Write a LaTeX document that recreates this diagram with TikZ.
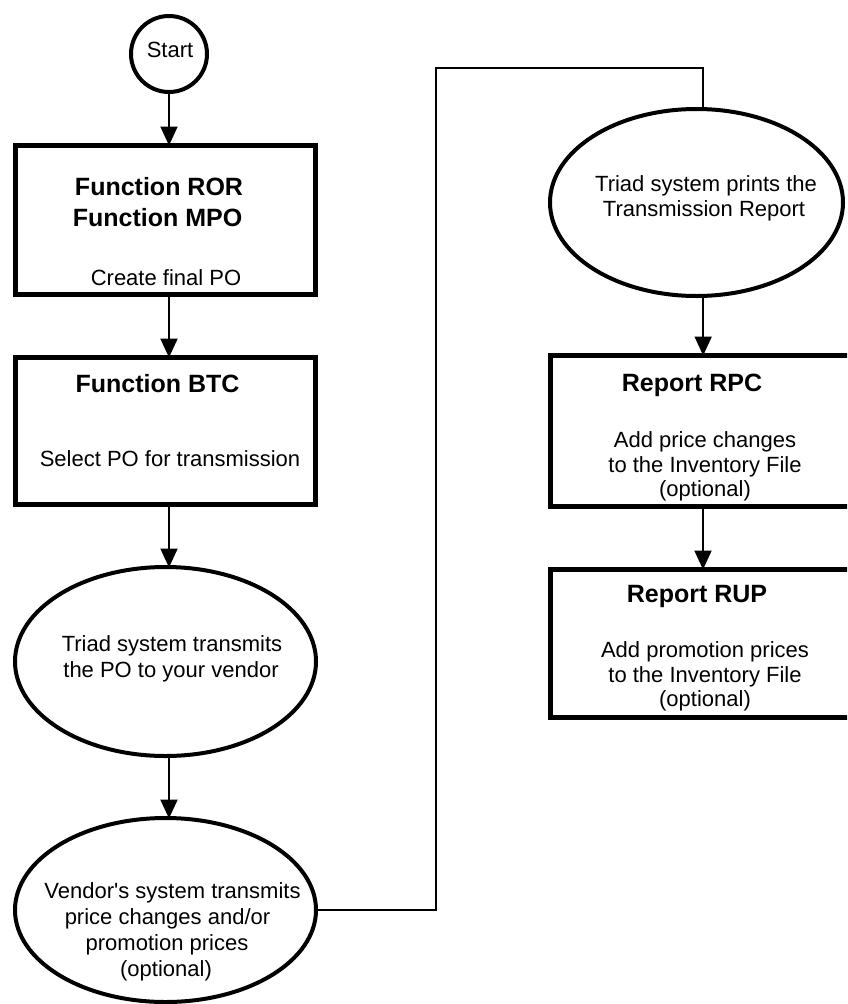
\documentclass[tikz,border=0pt]{standalone}
\usepackage{fontspec}
\setmainfont{Liberation Sans}
% same family without the TeX input mapping, so ' stays a straight quote
\newfontfamily\plainsans{Liberation Sans}
\usetikzlibrary{shapes.geometric,arrows.meta}

\tikzset{
  procbox/.style={draw, line width=5pt, rectangle, inner sep=0pt},
  oval/.style={draw, line width=4pt, ellipse, inner sep=0pt},
  flow/.style={line width=2pt},
  arrowflow/.style={flow, -{Triangle[length=19pt,width=17pt]}, shorten >=-2.5pt},
  head/.style={anchor=base, inner sep=0pt, font=\fontsize{25}{30}\selectfont\bfseries},
  body/.style={anchor=base, inner sep=0pt, font=\fontsize{22}{26}\selectfont},
}

\begin{document}
\begin{tikzpicture}[x=1pt,y=-1pt]
\clip (0,0) rectangle (847,1004);
\useasboundingbox (0,0) rectangle (847,1004);

% shapes
\node[circle, draw, line width=4pt, inner sep=0pt, minimum size=76pt] (start) at (169,54) {};
\node[procbox, minimum width=300pt, minimum height=149pt] (ror) at (165.5,220) {};
\node[procbox, minimum width=300pt, minimum height=147pt] (btc) at (165.5,431) {};
\node[oval, minimum width=301pt, minimum height=189pt] (send) at (165.5,661.5) {};
\node[oval, minimum width=301pt, minimum height=184pt] (vendor) at (165.5,910) {};
\node[oval, minimum width=293pt, minimum height=187pt] (print) at (696.5,202.5) {};
\node[procbox, minimum width=305pt, minimum height=151pt] (rpc) at (703,431) {};
\node[procbox, minimum width=305pt, minimum height=148pt] (rup) at (703,643.5) {};

% texts
\node[body] (tstart) at (170,57) {Start};

\node[head] (tror) at (159,195) {Function ROR};
\node[head] (tmpo) at (157.5,226) {Function MPO};
\node[body] (tcreate) at (166,285) {Create final PO};

\node[head] (tbtc) at (157.5,392) {Function BTC};
\node[body] (tselect) at (170,466) {Select PO for transmission};

\node[body] (tsend1) at (172,651) {Triad system transmits};
\node[body] (tsend2) at (171,677) {the PO to your vendor};

\node[body] (tven1) at (172.5,898) {\plainsans Vendor's system transmits};
\node[body] (tven2) at (167.5,924) {price changes and/or};
\node[body] (tven3) at (167,950) {promotion prices};
\node[body] (tven4) at (166,976) {(optional)};

\node[body] (tprint1) at (706,191) {Triad system prints the};
\node[body] (tprint2) at (704,216) {Transmission Report};

\node[head] (trpc) at (692,391) {Report RPC};
\node[body] (trpc1) at (705,447) {Add price changes};
\node[body] (trpc2) at (705,472) {to the Inventory File};
\node[body] (trpc3) at (705,496) {(optional)};

\node[head] (trup) at (697,602) {Report RUP};
\node[body] (trup1) at (705,657) {Add promotion prices};
\node[body] (trup2) at (705,682) {to the Inventory File};
\node[body] (trup3) at (705,706) {(optional)};

% connectors
\draw[arrowflow] (start.south) -- (start.south |- ror.north);
\draw[arrowflow] (ror.south -| start.south) -- (btc.north -| start.south);
\draw[arrowflow] (btc.south -| start.south) -- (send.north -| start.south);
\draw[arrowflow] (send.south -| start.south) -- (vendor.north -| start.south);

\coordinate (bendlow) at (436,910);
\coordinate (bendtop) at (436,68);
\draw[flow] (vendor.east) -- (bendlow) -- (bendtop) -| (print.86);

\draw[arrowflow] (print.-86) -- (print.-86 |- rpc.north);
\draw[arrowflow] (rpc.south) -- (rup.north);
\end{tikzpicture}
\end{document}
